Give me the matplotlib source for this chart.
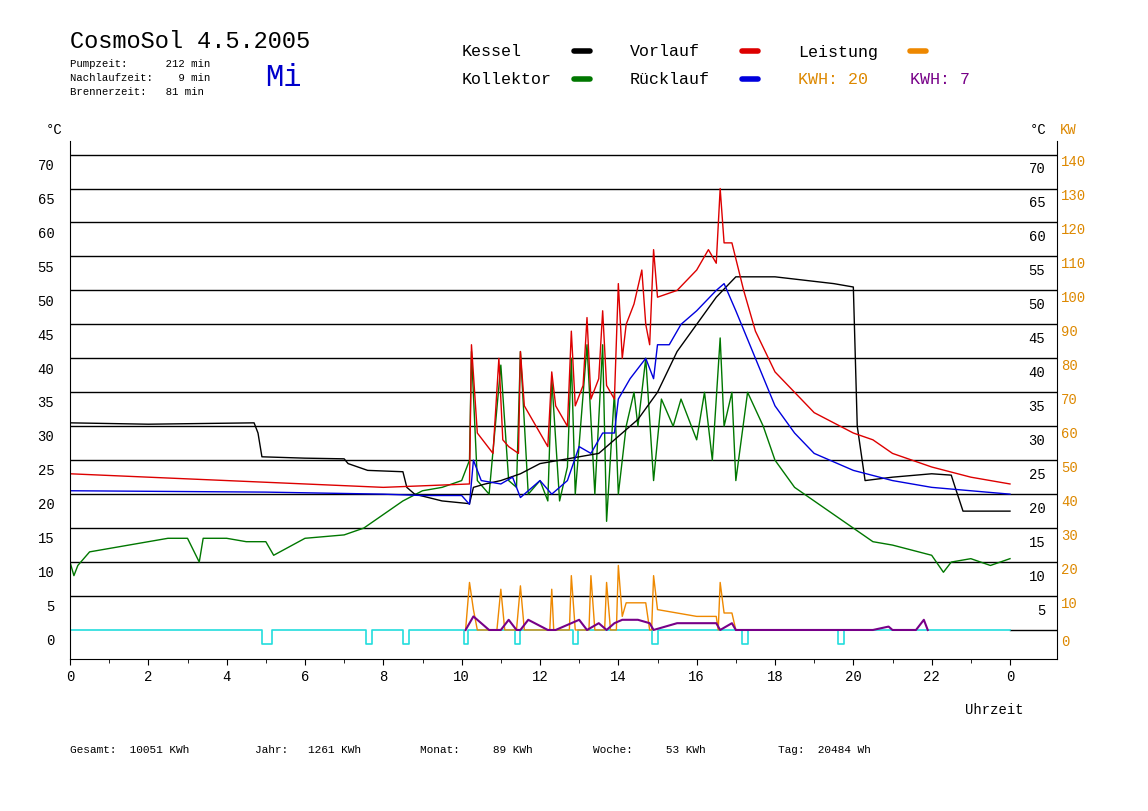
import matplotlib.pyplot as plt

plt.rcParams['font.family'] = ['Liberation Mono', 'DejaVu Sans']

# Kessel (black)
kessel_t = [0, 2, 4.7, 4.8, 4.9, 6, 7, 7.1, 7.6, 8.5, 8.6, 8.8, 9.5, 10.2, 10.3, 10.6, 11, 11.5, 12, 13, 13.5, 14, 14.5, 15, 15.5, 16, 16.5, 17, 18, 19.5, 20, 20.1, 20.3, 21, 22, 22.5, 22.6, 22.8, 24]
kessel_v = [30.5, 30.3, 30.5, 29, 25.5, 25.3, 25.2, 24.5, 23.5, 23.3, 21, 20, 19, 18.6, 21, 21.5, 22, 23, 24.5, 25.5, 26, 28.5, 31, 35, 41, 45, 49, 52, 52, 51, 50.5, 30, 22, 22.5, 23, 22.8, 21, 17.5, 17.5]

# Vorlauf (red)
vor_t = [0, 4, 8, 10.2, 10.25, 10.4, 10.8, 10.95, 11.05, 11.2, 11.45, 11.5, 11.6, 12.2, 12.3, 12.4, 12.7, 12.8, 12.9, 13.1, 13.2, 13.3, 13.5, 13.6, 13.7, 13.9, 14.0, 14.1, 14.2, 14.4, 14.6, 14.7, 14.8, 14.9, 15.0, 15.5, 16, 16.3, 16.5, 16.6, 16.7, 16.9, 17.2, 17.5, 18, 19, 20, 20.5, 21, 22, 23, 24]
vor_v = [23, 22, 21, 21.5, 42, 29, 26, 40, 28, 27, 26, 41, 33, 27, 38, 33, 30, 44, 33, 36, 46, 34, 37, 47, 36, 34, 51, 40, 45, 48, 53, 45, 42, 56, 49, 50, 53, 56, 54, 65, 57, 57, 50, 44, 38, 32, 29, 28, 26, 24, 22.5, 21.5]

# Ruecklauf (blue)
rueck_t = [0, 5, 8, 9, 10, 10.2, 10.3, 10.5, 11, 11.3, 11.5, 12, 12.3, 12.7, 13, 13.3, 13.6, 13.9, 14, 14.3, 14.7, 14.9, 15, 15.3, 15.6, 16, 16.5, 16.7, 17, 17.5, 18, 18.5, 19, 20, 21, 22, 23, 24]
rueck_v = [20.5, 20.3, 20, 19.8, 19.8, 18.5, 25, 22, 21.5, 22.5, 19.5, 22, 20, 22, 27, 26, 29, 29, 34, 37, 40, 37, 42, 42, 45, 47, 50, 51, 47, 40, 33, 29, 26, 23.5, 22, 21, 20.5, 20]

# Kollektor (green)
koll_t = [0, 0.1, 0.2, 0.5, 1, 1.5, 2, 2.5, 3, 3.3, 3.4, 4, 4.5, 5, 5.2, 6, 7, 7.5, 8, 8.5, 9, 9.5, 10, 10.2, 10.25, 10.4, 10.7, 11, 11.2, 11.4, 11.5, 11.7, 12, 12.2, 12.3, 12.5, 12.7, 12.8, 12.9, 13.2, 13.4, 13.6, 13.7, 13.9, 14, 14.2, 14.4, 14.5, 14.7, 14.9, 15.1, 15.4, 15.6, 16, 16.2, 16.4, 16.6, 16.7, 16.9, 17, 17.3, 17.7, 18, 18.5, 19, 19.5, 20, 20.5, 21, 22, 22.3, 22.5, 23, 23.5, 24]
koll_v = [10, 8, 9.5, 11.5, 12, 12.5, 13, 13.5, 13.5, 10, 13.5, 13.5, 13, 13, 11, 13.5, 14, 15, 17, 19, 20.5, 21, 22, 25, 41, 22, 20, 39, 22, 21, 41, 20, 22, 19, 37, 19, 24, 40, 20, 42, 20, 42, 16, 35, 20, 30, 35, 30, 40, 22, 34, 30, 34, 28, 35, 25, 43, 30, 35, 22, 35, 30, 25, 21, 19, 17, 15, 13, 12.5, 11, 8.5, 10, 10.5, 9.5, 10.5]

# Leistung (orange) in KW
leist_t = [10.1, 10.2, 10.3, 10.4, 10.9, 11.0, 11.1, 11.4, 11.5, 11.6, 12.25, 12.3, 12.35, 12.75, 12.8, 12.9, 13.25, 13.3, 13.4, 13.65, 13.7, 13.8, 13.95, 14.0, 14.1, 14.2, 14.5, 14.7, 14.8, 14.85, 14.9, 15.0, 15.5, 16, 16.5, 16.55, 16.6, 16.7, 16.9, 17.0]
leist_v = [0, 14, 6, 0, 0, 12, 0, 0, 13, 0, 0, 12, 0, 0, 16, 0, 0, 16, 0, 0, 14, 0, 0, 19, 4, 8, 8, 8, 0, 0, 16, 6, 5, 4, 4, 0, 14, 5, 5, 0]

# purple KWH trace in KW
purp_t = [10.1, 10.3, 10.5, 10.7, 11.0, 11.2, 11.4, 11.5, 11.7, 12.2, 12.4, 12.8, 13.0, 13.2, 13.5, 13.7, 13.9, 14.1, 14.5, 14.8, 14.9, 15.5, 16.5, 16.6, 16.9, 17.0, 20.5, 20.9, 21.0, 21.6, 21.8, 21.9]
purp_v = [0, 4, 2, 0, 0, 3, 0, 0, 3, 0, 0, 2, 3, 0, 2, 0, 2, 3, 3, 2, 0, 2, 2, 0, 2, 0, 0, 1, 0, 0, 3, 0]

# cyan pump state
pump_t = [0, 4.9, 4.9, 5.15, 5.15, 7.55, 7.55, 7.7, 7.7, 8.5, 8.5, 8.65, 8.65, 10.05, 10.05, 10.15, 10.15, 11.35, 11.35, 11.5, 11.5, 12.85, 12.85, 12.98, 12.98, 14.85, 14.85, 15.0, 15.0, 17.15, 17.15, 17.3, 17.3, 19.6, 19.6, 19.75, 19.75, 24]
pump_v = [0, 0, -2, -2, 0, 0, -2, -2, 0, 0, -2, -2, 0, 0, -2, -2, 0, 0, -2, -2, 0, 0, -2, -2, 0, 0, -2, -2, 0, 0, -2, -2, 0, 0, -2, -2, 0, 0]

fig = plt.figure(figsize=(11.48, 8.12), dpi=100)
ax = fig.add_axes([70/1148, 152/812, 987/1148, (660-142)/812])
ax.set_xlim(0, (1057-70)/(940/24))
ax.set_ylim(-29/6.786, 72)
for y in range(5, 75, 5):
    ax.axhline(y, color='black', lw=1, zorder=1)
ax.plot([24, 25.2], [0, 0], color='black', lw=1)

ax.plot(pump_t, pump_v, color='#22dddd', lw=1.2, zorder=2)
ax.plot(koll_t, koll_v, color='#007700', lw=1)
ax.plot(kessel_t, kessel_v, color='black', lw=1)
ax.plot(vor_t, vor_v, color='#dd0000', lw=1)
ax.plot(rueck_t, rueck_v, color='#0000dd', lw=1)
ax.plot(leist_t, [v / 2 for v in leist_v], color='#ee8800', lw=1)
ax.plot(purp_t, [v / 2 for v in purp_v], color='#770088', lw=1.5)

ax.spines['top'].set_visible(False)
ax.set_xticks(range(0, 25, 2))
ax.set_xticks(range(0, 25), minor=True)
ax.set_xticklabels([str(h % 24) for h in range(0, 25, 2)], fontsize=10)
ax.tick_params(axis='x', direction='out', length=4)
ax.tick_params(axis='x', which='minor', length=3)
ax.set_yticks([])
for y in range(0, 75, 5):
    ax.text(-0.4, y - 1.5, str(y), fontsize=10, ha='right', va='center')
    if y > 0:
        ax.text(24.9, y - 2.0, str(y), fontsize=10, ha='right', va='center')
    ax.text(25.3, y - 1.3 + (0.3 if y else -0.3), str(2 * y), fontsize=10, ha='left', va='center', color='#dd8800')

fig.text(46/1148, 1 - 130/812, '°C', fontsize=10, va='center')
fig.text(1030/1148, 1 - 130/812, '°C', fontsize=10, va='center')
fig.text(1060/1148, 1 - 130/812, 'KW', fontsize=10, va='center', color='#dd8800')
fig.text(965/1148, 1 - 710/812, 'Uhrzeit', fontsize=10, va='center')

fig.text(70/1148, 1 - 42/812, 'CosmoSol 4.5.2005', fontsize=17, va='center')
fig.text(70/1148, 1 - 64/812, 'Pumpzeit:      212 min', fontsize=7.7, va='center')
fig.text(70/1148, 1 - 78/812, 'Nachlaufzeit:    9 min', fontsize=7.7, va='center')
fig.text(70/1148, 1 - 92/812, 'Brennerzeit:   81 min', fontsize=7.7, va='center')
fig.text(265/1148, 1 - 78/812, 'Mi', fontsize=22, va='center', color='#0000cc')

legend = [('Kessel', 462, 52, 'black', 'black'), ('Vorlauf', 630, 52, 'black', '#dd0000'),
          ('Leistung', 798, 52, 'black', '#ee8800'), ('Kollektor', 462, 80, 'black', '#007700'),
          ('Rücklauf', 630, 80, 'black', '#0000dd')]
for name, x, y, tc, lc in legend:
    fig.text(x/1148, 1 - y/812, name, fontsize=12, va='center', color=tc)
    fig.add_artist(plt.Line2D([(x + 112)/1148, (x + 128)/1148], [1 - y/812, 1 - y/812],
                              color=lc, lw=4, solid_capstyle='round'))
fig.text(798/1148, 1 - 80/812, 'KWH: 20', fontsize=12, va='center', color='#dd8800')
fig.text(910/1148, 1 - 80/812, 'KWH: 7', fontsize=12, va='center', color='#770088')

footer = [('Gesamt:  10051 KWh', 70), ('Jahr:   1261 KWh', 255), ('Monat:     89 KWh', 420),
          ('Woche:     53 KWh', 593), ('Tag:  20484 Wh', 778)]
for s, x in footer:
    fig.text(x/1148, 1 - 750/812, s, fontsize=8, va='center')

fig.savefig('out.png', dpi=100)
